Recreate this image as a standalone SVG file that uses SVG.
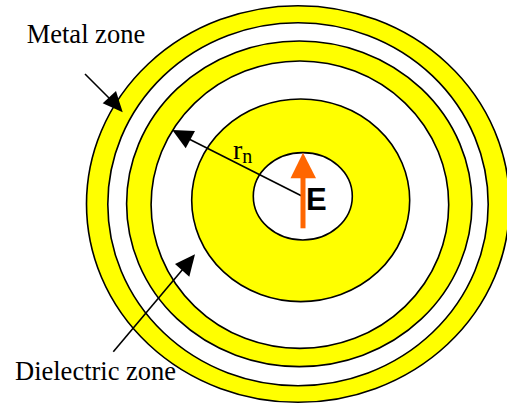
<svg xmlns="http://www.w3.org/2000/svg" width="507" height="404" viewBox="0 0 507 404">
<style>
.ring{stroke:#000;stroke-width:1.6}
.y{fill:#FFFF00}
.w{fill:#FFFFFF}
.lbl{font-family:"Liberation Serif","Times New Roman",serif;font-size:26.5px;fill:#000}
.ln{stroke:#000;stroke-width:1.6;fill:none}
.head{fill:#000}
</style>
<rect width="507" height="404" fill="#fff"/>
<g id="rings">
<ellipse id="metal-outer" class="ring y" cx="298" cy="204" rx="211.5" ry="198.3"/>
<ellipse id="dielectric-outer" class="ring w" cx="298" cy="204.2" rx="190.2" ry="181.5"/>
<ellipse id="metal-mid" class="ring y" cx="299.3" cy="203.8" rx="172.7" ry="162.8"/>
<ellipse id="dielectric-mid" class="ring w" cx="299.9" cy="204.7" rx="148.8" ry="143.7"/>
<ellipse id="metal-inner" class="ring y" cx="300.7" cy="200.3" rx="109" ry="101.3"/>
<ellipse id="core" class="ring w" cx="302.8" cy="196.3" rx="49.5" ry="43.7"/>
</g>
<g id="connectors">
<line class="ln" x1="85" y1="74" x2="110" y2="99"/>
<polygon class="head" points="122.7,112.3 102.7,103.3 116,91"/>
<line class="ln" x1="303.3" y1="196.7" x2="189" y2="139"/>
<polygon class="head" points="172.3,130 185.7,148.3 195,131"/>
<line class="ln" x1="113.3" y1="351.7" x2="183" y2="269"/>
<polygon class="head" points="195,254.3 175,264 189.3,276.7"/>
<line x1="303" y1="228.3" x2="303" y2="176" stroke="#FF6600" stroke-width="5"/>
<polygon points="303,152.7 290.5,178.3 316,178.3" fill="#FF6600"/>
</g>
<g id="labels">
<text class="lbl" x="26.7" y="43.3">Metal zone</text>
<text class="lbl" x="15" y="380">Dielectric zone</text>
<text class="lbl" x="233" y="159" style="font-size:28px">r<tspan style="font-size:20px" dy="4">n</tspan></text>
<text x="306" y="210" font-family="Liberation Sans,Arial,sans-serif" font-weight="bold" font-size="31" fill="#000">E</text>
</g>
</svg>
